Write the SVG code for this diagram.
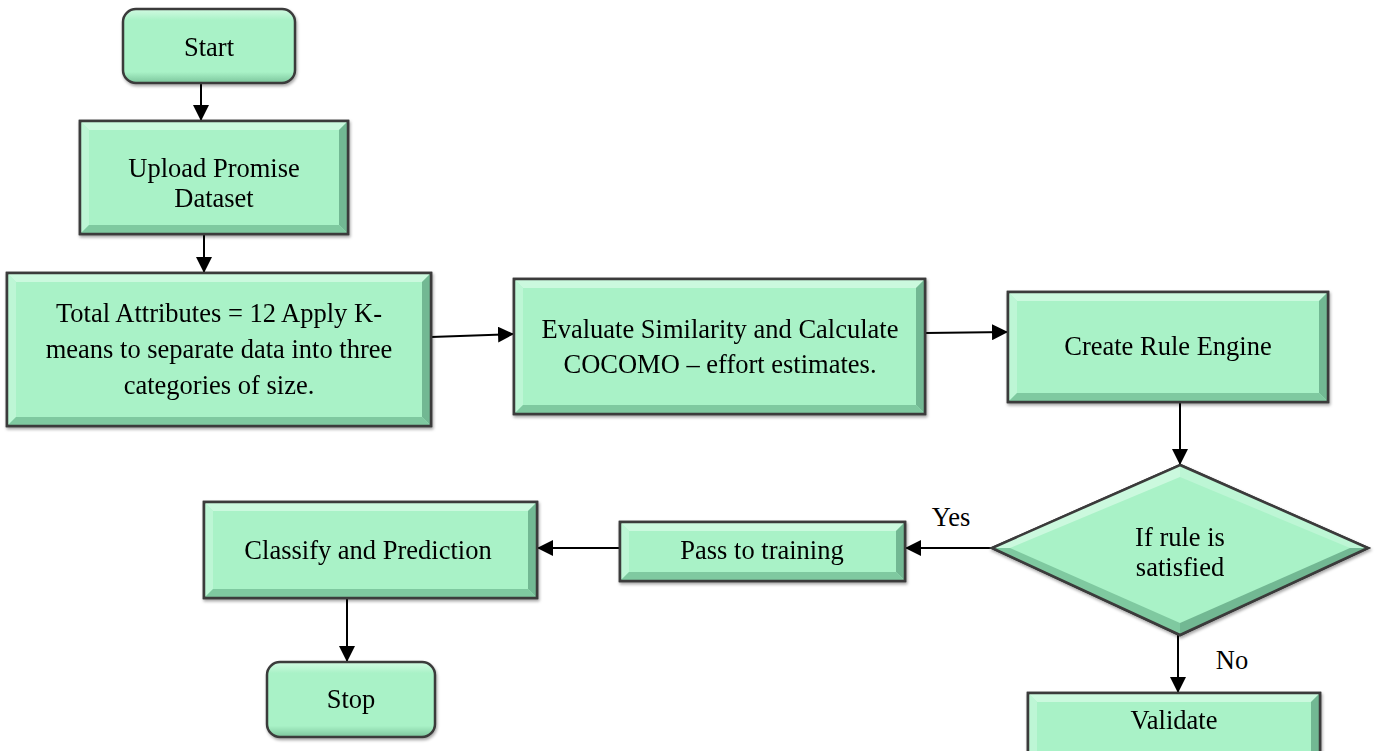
<svg xmlns="http://www.w3.org/2000/svg" width="1376" height="751" viewBox="0 0 1376 751">
<defs>
<style>
.base{fill:#A9F2C7;stroke:#3a3a3a;stroke-width:2.5}
.lt{fill:#CBF9DE}
.lt2{fill:#BDF6D5}
.dk{fill:#7FC9A0}
.dk2{fill:#72B893}
.edge{fill:none;stroke:#3a3a3a;stroke-width:2.5}
.t{font-family:"Liberation Serif","Times New Roman",serif;font-size:26.5px;fill:#000;text-anchor:middle}
.c{stroke:#000;stroke-width:2;fill:none;marker-end:url(#ah)}
</style>
<marker id="ah" markerUnits="userSpaceOnUse" markerWidth="16" markerHeight="16" viewBox="0 0 16 16" refX="16" refY="8" orient="auto">
<path d="M0,0 L16,8 L0,16 Z" fill="#000"/>
</marker>
<linearGradient id="rg" x1="0" y1="0" x2="0" y2="1">
<stop offset="0" stop-color="#D2FAE2"/>
<stop offset="0.15" stop-color="#A9F2C7"/>
<stop offset="0.85" stop-color="#A9F2C7"/>
<stop offset="1" stop-color="#7CC59C"/>
</linearGradient>
<filter id="sh" x="-10%" y="-10%" width="120%" height="130%">
<feDropShadow dx="1" dy="2" stdDeviation="1.5" flood-color="#000" flood-opacity="0.35"/>
</filter>
</defs>
<rect width="1376" height="751" fill="#fff"/>

<g id="connectors">
<line class="c" x1="201" y1="83" x2="201" y2="121"/>
<line class="c" x1="204" y1="234" x2="204" y2="273"/>
<line class="c" x1="431" y1="337" x2="514" y2="334"/>
<line class="c" x1="925" y1="333" x2="1008" y2="332"/>
<line class="c" x1="1180" y1="402" x2="1180" y2="465"/>
<line class="c" x1="992" y1="548" x2="905" y2="548"/>
<line class="c" x1="620" y1="548" x2="537" y2="548"/>
<line class="c" x1="347" y1="598" x2="347" y2="662"/>
<line class="c" x1="1178" y1="635" x2="1178" y2="693"/>
<text class="t" x="951" y="526">Yes</text>
<text class="t" x="1232" y="669">No</text>
</g>

<g id="start" filter="url(#sh)">
<rect x="123" y="9" width="172" height="74" rx="13" fill="url(#rg)" stroke="#3a3a3a" stroke-width="2.5"/>
<text class="t" x="209" y="56">Start</text>
</g>

<g id="upload" filter="url(#sh)">
<rect class="base" x="80" y="121" width="268" height="113"/>
<polygon class="lt" points="80,121 348,121 339,130 89,130"/>
<polygon class="lt2" points="80,121 89,130 89,225 80,234"/>
<polygon class="dk2" points="348,121 348,234 339,225 339,130"/>
<polygon class="dk" points="80,234 348,234 339,225 89,225"/>
<rect class="edge" x="80" y="121" width="268" height="113"/>
<text class="t" x="214" y="177">Upload Promise</text>
<text class="t" x="214" y="207">Dataset</text>
</g>

<g id="total" filter="url(#sh)">
<rect class="base" x="7" y="273" width="424" height="153"/>
<polygon class="lt" points="7,273 431,273 422,282 16,282"/>
<polygon class="lt2" points="7,273 16,282 16,417 7,426"/>
<polygon class="dk2" points="431,273 431,426 422,417 422,282"/>
<polygon class="dk" points="7,426 431,426 422,417 16,417"/>
<rect class="edge" x="7" y="273" width="424" height="153"/>
<text class="t" x="219" y="322">Total Attributes = 12 Apply K-</text>
<text class="t" x="219" y="358">means to separate data into three</text>
<text class="t" x="219" y="394">categories of size.</text>
</g>

<g id="evaluate" filter="url(#sh)">
<rect class="base" x="514" y="279" width="411" height="135"/>
<polygon class="lt" points="514,279 925,279 916,288 523,288"/>
<polygon class="lt2" points="514,279 523,288 523,405 514,414"/>
<polygon class="dk2" points="925,279 925,414 916,405 916,288"/>
<polygon class="dk" points="514,414 925,414 916,405 523,405"/>
<rect class="edge" x="514" y="279" width="411" height="135"/>
<text class="t" x="720" y="338">Evaluate Similarity and Calculate</text>
<text class="t" x="720" y="373">COCOMO – effort estimates.</text>
</g>

<g id="create" filter="url(#sh)">
<rect class="base" x="1008" y="292" width="320" height="110"/>
<polygon class="lt" points="1008,292 1328,292 1319,301 1017,301"/>
<polygon class="lt2" points="1008,292 1017,301 1017,393 1008,402"/>
<polygon class="dk2" points="1328,292 1328,402 1319,393 1319,301"/>
<polygon class="dk" points="1008,402 1328,402 1319,393 1017,393"/>
<rect class="edge" x="1008" y="292" width="320" height="110"/>
<text class="t" x="1168" y="355">Create Rule Engine</text>
</g>

<g id="decision" filter="url(#sh)">
<polygon class="base" points="1180,465 1368,548 1180,635 992,548"/>
<polygon class="lt" points="1180,465 1180,477 1010,548 992,548"/>
<polygon class="lt2" points="1180,465 1368,548 1350,548 1180,477"/>
<polygon class="dk" points="992,548 1010,548 1180,623 1180,635"/>
<polygon class="dk2" points="1368,548 1180,635 1180,623 1350,548"/>
<polygon class="edge" points="1180,465 1368,548 1180,635 992,548"/>
<text class="t" x="1180" y="546">If rule is</text>
<text class="t" x="1180" y="576">satisfied</text>
</g>

<g id="pass" filter="url(#sh)">
<rect class="base" x="620" y="522" width="285" height="59"/>
<polygon class="lt" points="620,522 905,522 896,531 629,531"/>
<polygon class="lt2" points="620,522 629,531 629,572 620,581"/>
<polygon class="dk2" points="905,522 905,581 896,572 896,531"/>
<polygon class="dk" points="620,581 905,581 896,572 629,572"/>
<rect class="edge" x="620" y="522" width="285" height="59"/>
<text class="t" x="762" y="559">Pass to training</text>
</g>

<g id="classify" filter="url(#sh)">
<rect class="base" x="204" y="502" width="333" height="96"/>
<polygon class="lt" points="204,502 537,502 528,511 213,511"/>
<polygon class="lt2" points="204,502 213,511 213,589 204,598"/>
<polygon class="dk2" points="537,502 537,598 528,589 528,511"/>
<polygon class="dk" points="204,598 537,598 528,589 213,589"/>
<rect class="edge" x="204" y="502" width="333" height="96"/>
<text class="t" x="368" y="559">Classify and Prediction</text>
</g>

<g id="stop" filter="url(#sh)">
<rect x="267" y="662" width="168" height="75" rx="13" fill="url(#rg)" stroke="#3a3a3a" stroke-width="2.5"/>
<text class="t" x="351" y="708">Stop</text>
</g>

<g id="validate" filter="url(#sh)">
<rect class="base" x="1028" y="693" width="292" height="72"/>
<polygon class="lt" points="1028,693 1320,693 1311,702 1037,702"/>
<polygon class="lt2" points="1028,693 1037,702 1037,765 1028,765"/>
<polygon class="dk2" points="1320,693 1320,765 1311,765 1311,702"/>
<rect class="edge" x="1028" y="693" width="292" height="72"/>
<text class="t" x="1174" y="729">Validate</text>
</g>
</svg>
